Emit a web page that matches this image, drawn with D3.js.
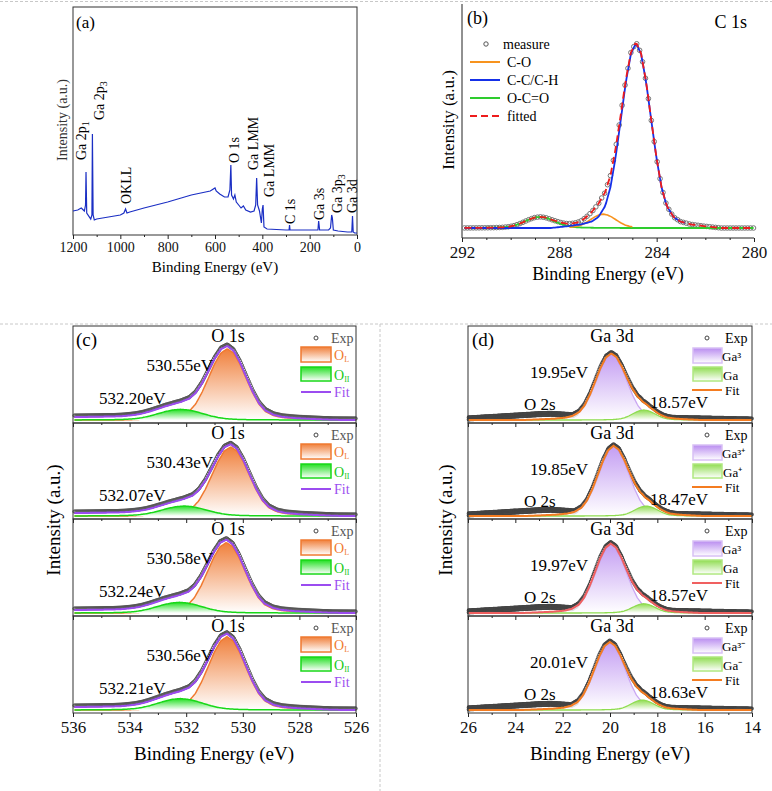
<!DOCTYPE html>
<html><head><meta charset="utf-8">
<script src="https://cdn.jsdelivr.net/npm/d3@7"></script>
<style>body{margin:0;background:#fff}svg{font-family:"Liberation Serif","Times New Roman",serif}</style>
</head><body><svg id="c" width="772" height="791"></svg>
<script>
// ---------- data ----------
const surveyPoints = [[1200,24],[1180,25],[1165,27],[1152,24],[1147,30],[1145,63],[1142,22],[1125,16],[1120,20],[1118,101],[1115,20],[1110,15],[1100,16],[1050,18],[1000,20],[985,22],[978,26],[972,22],[960,23],[900,27],[800,33],[700,40],[620,44],[600,47],[595,44],[580,41],[560,38],[545,38],[537,45],[533,70],[530,40],[522,36],[516,40],[510,33],[500,30],[490,27],[480,29],[470,25],[450,23],[435,24],[428,30],[424,57],[420,30],[412,24],[404,12],[400,26],[397,30],[393,8],[380,6],[300,5],[287,5],[285,10],[283,5],[200,5],[165,5],[162,14],[158,5],[120,5],[112,7],[107,20],[104,17],[100,5],[80,4],[40,3],[22,3],[19,19],[16,3],[10,2],[0,2]];
const surveyLabels = [["Ga 2p","1",86,160],["Ga 2p","3",104,120],["OKLL","",131,204],["O 1s","",239,163],["Ga LMM","",258,170],["Ga LMM","",274,197],["C 1s","",295,224],["Ga 3s","",324,220],["Ga 3p","3",342,213],["Ga 3d","",357,213]];
// normalized line shape read from the fitted peaks (offset in FWHM units -> relative height)
const shapeU = [-2.5,-2,-1.6,-1.3,-1.1,-0.9,-0.75,-0.6,-0.45,-0.3,-0.15,0,0.15,0.3,0.45,0.6,0.75,0.9,1.1,1.3,1.6,2,2.5];
const shapeV = [0,0.01,0.02,0.035,0.06,0.12,0.22,0.38,0.58,0.785,0.94,1,0.94,0.785,0.58,0.38,0.22,0.12,0.06,0.035,0.02,0.01,0];
// C 1s components: [center, fwhm, height]
const c1sNames = ["C-O","C-C/C-H","O-C=O"];
const c1sComps = [[286.2,1.2,0.075],[284.85,1.4,1.0],[288.8,1.4,0.06]];
// O 1s panels
const oLabelsL = ["530.55eV","530.43eV","530.58eV","530.56eV"];
const oLabelsH = ["532.20eV","532.07eV","532.24eV","532.21eV"];
const oCentersL = [530.55,530.43,530.58,530.56];
const oCentersH = [532.20,532.07,532.24,532.21];
const oHeightsL = [1.0,0.97,0.99,1.03];
const oHeightsH = [0.15,0.14,0.15,0.16];
const oBackground = [[526,0],[529.5,0.01],[531,0.03],[533,0.05],[536,0.04]];
// Ga 3d panels
const gaLabels3 = ["19.95eV","19.85eV","19.97eV","20.01eV"];
const gaLabels1 = ["18.57eV","18.47eV","18.57eV","18.63eV"];
const gaCenters3 = [19.95,19.85,19.97,20.01];
const gaCenters1 = [18.57,18.47,18.57,18.63];
const gaHeights3 = [0.93,0.98,0.97,0.95];
const gaHeights1 = [0.14,0.14,0.13,0.14];
const o2sBand = [[14,0],[21.3,0.05],[21.6,0.06],[22,0.07],[22.5,0.08],[23,0.075],[24,0.055],[25,0.035],[26,0.015]];
const gaFitColors = ["#f47c20","#f47c20","#f06060","#f47c20"];
const gaLegend3 = ["Ga\u00B3","Ga\u00B3\u207A","Ga\u00B3","Ga\u00B3\u207B"];
const gaLegend1 = ["Ga","Ga\u207A","Ga","Ga\u207B"];

// ---------- helpers ----------
function interp(xs, ys, x){ if(x<=xs[0])return ys[0]; if(x>=xs[xs.length-1])return ys[ys.length-1];
  for(let i=1;i<xs.length;i++){ if(x<=xs[i]){const t=(x-xs[i-1])/(xs[i]-xs[i-1]);return ys[i-1]+t*(ys[i]-ys[i-1]);}} }
function peak(x,c,w,h){ return h*interp(shapeU,shapeV,(x-c)/w); }
function tab(t,x){ return interp(t.map(d=>d[0]),t.map(d=>d[1]),x); }
const svg=d3.select("#c");
const defs=svg.append("defs");
function grad(id,col){const g=defs.append("linearGradient").attr("id",id).attr("x1",0).attr("y1",0).attr("x2",0).attr("y2",1);
  g.append("stop").attr("offset","0%").attr("stop-color",col);g.append("stop").attr("offset","100%").attr("stop-color","#fff");}
grad("gOL","#f0803c");grad("gOH","#22e022");grad("gGa3","#b98cf0");grad("gGa1","#8fdc50");

// dividers
const dash=svg.append("g").attr("stroke","#c8c8c8").attr("stroke-dasharray","3,2").attr("stroke-width",1);
dash.append("line").attr("x1",0).attr("x2",772).attr("y1",1.5).attr("y2",1.5);
dash.append("line").attr("x1",0).attr("x2",772).attr("y1",324).attr("y2",324);
dash.append("line").attr("x1",380).attr("x2",380).attr("y1",324).attr("y2",791);

function axis(g,scale,y,ticks,minor,labels,fs){
  const ax=d3.axisBottom(scale).tickValues(ticks).tickSize(4).tickPadding(2).tickSizeOuter(0).tickFormat(labels?d3.format("d"):"");
  const a=g.append("g").attr("transform",`translate(0,${y})`).call(ax);
  a.select(".domain").remove();
  a.selectAll("text").attr("font-size",fs||17).attr("font-family","Liberation Serif").attr("fill","#111").attr("dy","0.8em");
  a.selectAll("line").attr("stroke","#222");
  const m=g.append("g").attr("transform",`translate(0,${y})`).call(d3.axisBottom(scale).tickValues(minor).tickSize(2).tickFormat(""));
  m.select(".domain").remove(); m.selectAll("line").attr("stroke","#222");
}

// ---------- (a) survey ----------
{ const x=d3.scaleLinear([1200,0],[73,357]), y=d3.scaleLinear([0,228],[235,7]);
  const g=svg.append("g");
  g.append("rect").attr("x",73).attr("y",7).attr("width",284).attr("height",228).attr("fill","none").attr("stroke","#333");
  g.append("path").datum(surveyPoints).attr("fill","none").attr("stroke","#1b2fc4").attr("stroke-width",1.2)
   .attr("d",d3.line().x(d=>x(d[0])).y(d=>y(d[1])));
  axis(g,x,235,d3.range(0,1201,200),d3.range(100,1200,200),true,14);
  g.append("text").attr("x",76).attr("y",28).attr("font-size",17).text("(a)");
  surveyLabels.forEach(l=>{const t=g.append("text").attr("transform",`translate(${l[2]},${l[3]}) rotate(-90)`).attr("font-size",14);
    t.append("tspan").text(l[0]); if(l[1]) t.append("tspan").attr("font-size",10).attr("dy",3).text(l[1]);});
  g.append("text").attr("transform","translate(67,120) rotate(-90)").attr("text-anchor","middle").attr("font-size",14).attr("fill","#333").text("Intensity (a.u.)");
  g.append("text").attr("x",215).attr("y",272).attr("text-anchor","middle").attr("font-size",15).text("Binding Energy (eV)");
}

// ---------- (b) C 1s ----------
{ const x=d3.scaleLinear([292,280],[462,754]), y=d3.scaleLinear([-0.054,1.205],[238,5]);
  const g=svg.append("g");
  g.append("line").attr("x1",462).attr("x2",462).attr("y1",4).attr("y2",238).attr("stroke","#222");
  g.append("line").attr("x1",462).attr("x2",754).attr("y1",238).attr("y2",238).attr("stroke","#222");
  axis(g,x,238,[292,288,284,280],[291,290,289,287,286,285,283,282,281],true,17);
  const xs=d3.range(291.9,280,-0.06);
  const comp=(i,x0,x1)=>xs.filter(v=>v<=x0&&v>=x1).map(v=>[v,peak(v,...c1sComps[i])]);
  const fit=xs.map(v=>[v,d3.sum(c1sComps,c=>peak(v,...c))]);
  const ln=d3.line().x(d=>x(d[0])).y(d=>y(d[1]));
  g.selectAll("circle.m").data(fit.filter((d,i)=>i%2==0)).join("circle").attr("cx",d=>x(d[0])).attr("cy",d=>y(d[1])).attr("r",2.3).attr("fill","none").attr("stroke","#777").attr("stroke-width",1);
  g.append("path").datum(comp(2,292,280)).attr("d",ln).attr("fill","none").attr("stroke","#2ecc2e").attr("stroke-width",1.8);
  g.append("path").datum(comp(0,287.6,285)).attr("d",ln).attr("fill","none").attr("stroke","#f7931e").attr("stroke-width",1.6);
  g.append("path").datum(comp(1,291.9,282.8)).attr("d",ln).attr("fill","none").attr("stroke","#1530e8").attr("stroke-width",1.8);
  g.append("path").datum(fit).attr("d",ln).attr("fill","none").attr("stroke","#ee1c1c").attr("stroke-width",1.8).attr("stroke-dasharray","7,4");
  const leg=[["measure",null],["C-O","#f7931e"],["C-C/C-H","#1530e8"],["O-C=O","#2ecc2e"],[" fitted","#ee1c1c"]];
  leg.forEach((l,i)=>{const yy=44+i*18;
    if(l[1]) g.append("line").attr("x1",470).attr("x2",500).attr("y1",yy).attr("y2",yy).attr("stroke",l[1]).attr("stroke-width",2).attr("stroke-dasharray",i==4?"7,4":null);
    else g.append("circle").attr("cx",486).attr("cy",yy).attr("r",2.2).attr("fill","none").attr("stroke","#555");
    g.append("text").attr("x",i==0?503:507).attr("y",yy+5).attr("font-size",14).text(l[0]);});
  g.append("text").attr("x",467).attr("y",24).attr("font-size",18).text("(b)");
  g.append("text").attr("x",747).attr("y",28).attr("text-anchor","end").attr("font-size",18).text("C 1s");
  g.append("text").attr("transform","translate(454,120) rotate(-90)").attr("text-anchor","middle").attr("font-size",17).text("Intensity (a.u.)");
  g.append("text").attr("x",608).attr("y",280).attr("text-anchor","middle").attr("font-size",18).text("Binding Energy (eV)");
}

const tops=[326,423,519,616], bottom=713;
// ---------- (c) O 1s ----------
{ const x=d3.scaleLinear([536,526],[73,356]);
  const g=svg.append("g");
  const xs=d3.range(535.95,526,-0.035);
  tops.forEach((t,k)=>{
    const b=k<3?tops[k+1]:bottom, y=d3.scaleLinear([0,1.32],[b-3,b-97]);
    const L=v=>peak(v,oCentersL[k],1.5,oHeightsL[k]), Hh=v=>peak(v,oCentersH[k],1.8,oHeightsH[k]);
    const area=d3.area().x(d=>x(d[0])).y0(y(0)).y1(d=>y(d[1])), ln=d3.line().x(d=>x(d[0])).y(d=>y(d[1]));
    const dL=xs.map(v=>[v,L(v)]), dH=xs.map(v=>[v,Hh(v)]), fit=xs.map(v=>[v,L(v)+Hh(v)+tab(oBackground,v)]);
    g.selectAll(null).data(fit).join("circle").attr("cx",d=>x(d[0])).attr("cy",d=>y(d[1])-1.5).attr("r",1.6).attr("fill","none").attr("stroke","#555").attr("stroke-width",1);
    g.append("path").datum(dL).attr("d",area).attr("fill","url(#gOL)");
    g.append("path").datum(dL).attr("d",ln).attr("fill","none").attr("stroke","#f07a30").attr("stroke-width",1.5);
    g.append("path").datum(dH).attr("d",area).attr("fill","url(#gOH)");
    g.append("path").datum(dH).attr("d",ln).attr("fill","none").attr("stroke","#18d818").attr("stroke-width",1.5);
    g.append("path").datum(fit).attr("d",ln).attr("fill","none").attr("stroke","#9b4cf0").attr("stroke-width",2);
    g.append("rect").attr("x",73).attr("y",t).attr("width",283).attr("height",b-t).attr("fill","none").attr("stroke","#333");
    axis(g,x,b,d3.range(526,537,2),d3.range(527,536,2),k==3,17);
    g.append("text").attr("x",228).attr("y",t+16).attr("text-anchor","middle").attr("font-size",18).text("O 1s");
    g.append("text").attr("x",213).attr("y",t+45).attr("text-anchor","end").attr("font-size",17).text(oLabelsL[k]);
    g.append("text").attr("x",99).attr("y",t+78).attr("font-size",17).text(oLabelsH[k]);
    // legend
    g.append("circle").attr("cx",316).attr("cy",t+12).attr("r",2).attr("fill","none").attr("stroke","#444");
    g.append("text").attr("x",331).attr("y",t+17).attr("font-size",14).attr("fill","#555").text("Exp");
    g.append("rect").attr("x",301).attr("y",t+21).attr("width",30).attr("height",15).attr("fill","url(#gOL)").attr("stroke","#f07a30").attr("stroke-width",1.5);
    const tl=g.append("text").attr("x",334).attr("y",t+34).attr("font-size",14).attr("fill","#f07a30").text("O");tl.append("tspan").attr("font-size",8).attr("dy",2).text("L");
    g.append("rect").attr("x",301).attr("y",t+41).attr("width",30).attr("height",14).attr("fill","url(#gOH)").attr("stroke","#18d818").attr("stroke-width",1.5);
    const th=g.append("text").attr("x",334).attr("y",t+54).attr("font-size",14).attr("fill","#18c818").text("O");th.append("tspan").attr("font-size",8).attr("dy",2).text("II");
    g.append("line").attr("x1",301).attr("x2",331).attr("y1",t+66).attr("y2",t+66).attr("stroke","#9b4cf0").attr("stroke-width",2);
    g.append("text").attr("x",334).attr("y",t+71).attr("font-size",14).attr("fill","#9b4cf0").text("Fit");
  });
  g.append("text").attr("x",76).attr("y",346).attr("font-size",19).text("(c)");
  g.append("text").attr("transform","translate(60,520) rotate(-90)").attr("text-anchor","middle").attr("font-size",19).text("Intensity (a.u.)");
  g.append("text").attr("x",214).attr("y",760).attr("text-anchor","middle").attr("font-size",19).text("Binding Energy (eV)");
}

// ---------- (d) Ga 3d ----------
{ const x=d3.scaleLinear([26,14],[468,752]);
  const g=svg.append("g");
  const xs=d3.range(25.97,14,-0.04);
  tops.forEach((t,k)=>{
    const b=k<3?tops[k+1]:bottom, y=d3.scaleLinear([0,1.32],[b-3,b-97]);
    const A=v=>peak(v,gaCenters3[k],1.5,gaHeights3[k]), B=v=>peak(v,gaCenters1[k],1.1,gaHeights1[k]);
    const area=d3.area().x(d=>x(d[0])).y0(y(0)).y1(d=>y(d[1])), ln=d3.line().x(d=>x(d[0])).y(d=>y(d[1]));
    const dA=xs.map(v=>[v,A(v)]), dB=xs.map(v=>[v,B(v)]), fit=xs.map(v=>[v,A(v)+B(v)]);
    const exp=xs.map(v=>[v,Math.max(A(v)+B(v),tab(o2sBand,v))]);
    g.selectAll(null).data(exp).join("circle").attr("cx",d=>x(d[0])).attr("cy",d=>y(d[1])-1.5).attr("r",1.5).attr("fill","none").attr("stroke","#444").attr("stroke-width",1.1);
    g.selectAll(null).data(exp.filter(d=>d[0]>21.4)).join("circle").attr("cx",d=>x(d[0])).attr("cy",d=>y(d[1])+0.5).attr("r",1.5).attr("fill","none").attr("stroke","#444").attr("stroke-width",1.1);
    g.append("path").datum(dA).attr("d",area).attr("fill","url(#gGa3)").attr("opacity",0.85);
    g.append("path").datum(dA).attr("d",ln).attr("fill","none").attr("stroke","#c9a6f2").attr("stroke-width",1.3);
    g.append("path").datum(dB).attr("d",area).attr("fill","url(#gGa1)");
    g.append("path").datum(dB).attr("d",ln).attr("fill","none").attr("stroke","#8fdc50").attr("stroke-width",1.3);
    g.append("path").datum(fit).attr("d",ln).attr("fill","none").attr("stroke",gaFitColors[k]).attr("stroke-width",2);
    g.append("rect").attr("x",468).attr("y",t).attr("width",284).attr("height",b-t).attr("fill","none").attr("stroke","#333");
    axis(g,x,b,d3.range(14,27,2),d3.range(15,26,2),k==3,17);
    g.append("text").attr("x",612).attr("y",t+16).attr("text-anchor","middle").attr("font-size",18).text("Ga 3d");
    g.append("text").attr("x",530).attr("y",t+52).attr("font-size",17).text(gaLabels3[k]);
    g.append("text").attr("x",524).attr("y",t+84).attr("font-size",17).text("O 2s");
    g.append("text").attr("x",650).attr("y",t+82).attr("font-size",17).text(gaLabels1[k]);
    g.append("circle").attr("cx",707).attr("cy",t+12).attr("r",2).attr("fill","none").attr("stroke","#444");
    g.append("text").attr("x",725).attr("y",t+17).attr("font-size",14).text("Exp");
    g.append("rect").attr("x",693).attr("y",t+22).attr("width",29).attr("height",15).attr("fill","url(#gGa3)").attr("stroke","#d8c0f5").attr("stroke-width",1.5);
    g.append("text").attr("x",722).attr("y",t+35).attr("font-size",13).text(gaLegend3[k]);
    g.append("rect").attr("x",693).attr("y",t+41).attr("width",29).attr("height",14).attr("fill","url(#gGa1)").attr("stroke","#b0e880").attr("stroke-width",1.5);
    g.append("text").attr("x",723).attr("y",t+54).attr("font-size",13).text(gaLegend1[k]);
    g.append("line").attr("x1",692).attr("x2",722).attr("y1",t+64).attr("y2",t+64).attr("stroke",gaFitColors[k]).attr("stroke-width",2);
    g.append("text").attr("x",725).attr("y",t+69).attr("font-size",13).text("Fit");
  });
  g.append("text").attr("x",472).attr("y",346).attr("font-size",19).text("(d)");
  g.append("text").attr("transform","translate(452,520) rotate(-90)").attr("text-anchor","middle").attr("font-size",19).text("Intensity (a.u.)");
  g.append("text").attr("x",610).attr("y",760).attr("text-anchor","middle").attr("font-size",19).text("Binding Energy (eV)");
}
</script></body></html>
